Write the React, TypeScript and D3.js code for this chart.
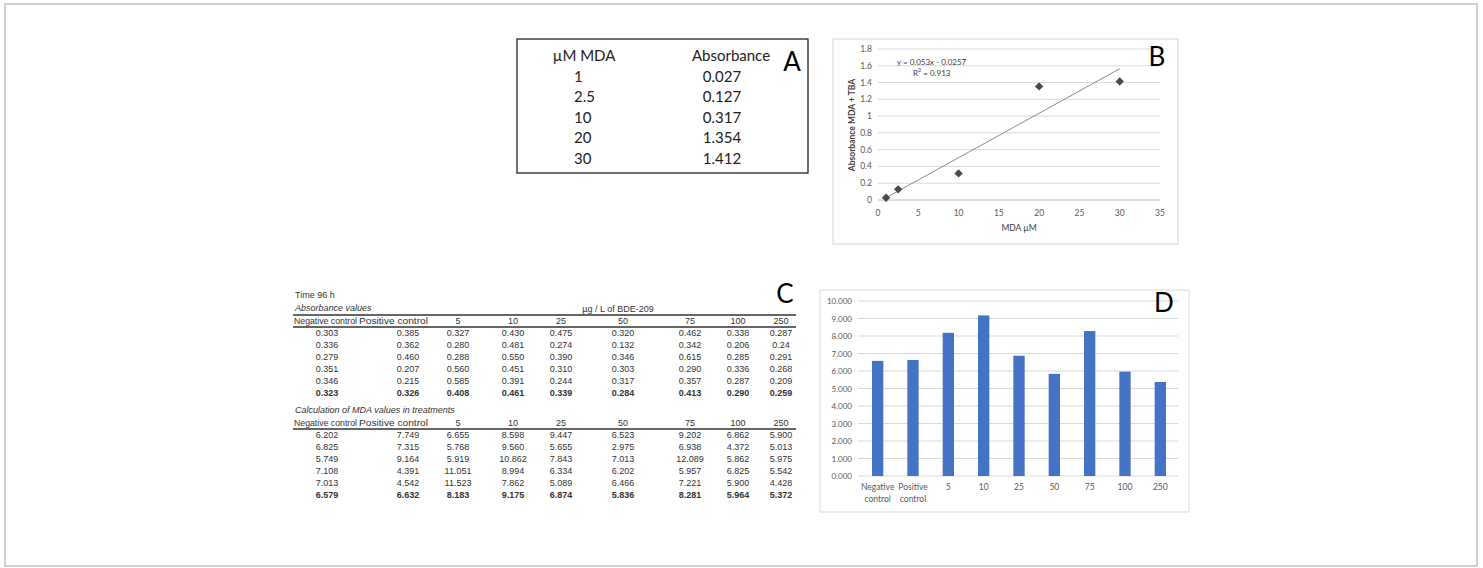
import React from "react";
import * as d3 from "d3";

// ---- Panel A / B: MDA standard curve ----
const mdaConc = [1, 2.5, 10, 20, 30];
const mdaAbs = [0.027, 0.127, 0.317, 1.354, 1.412];
const mdaAbsLabels = ["0.027", "0.127", "0.317", "1.354", "1.412"];
const fitSlope = 0.053;
const fitIntercept = -0.0257;
const fitR2 = "0.913";
const bXTicks = [0, 5, 10, 15, 20, 25, 30, 35];
const bYTicks = [0, 0.2, 0.4, 0.6, 0.8, 1, 1.2, 1.4, 1.6, 1.8];

// ---- Panel C: tables ----
const tableHeaders = ["Negative control", "Positive control", "5", "10", "25", "50", "75", "100", "250"];
const absorbanceRows = [
  ["0.303", "0.385", "0.327", "0.430", "0.475", "0.320", "0.462", "0.338", "0.287"],
  ["0.336", "0.362", "0.280", "0.481", "0.274", "0.132", "0.342", "0.206", "0.24"],
  ["0.279", "0.460", "0.288", "0.550", "0.390", "0.346", "0.615", "0.285", "0.291"],
  ["0.351", "0.207", "0.560", "0.451", "0.310", "0.303", "0.290", "0.336", "0.268"],
  ["0.346", "0.215", "0.585", "0.391", "0.244", "0.317", "0.357", "0.287", "0.209"],
];
const absorbanceMeans = ["0.323", "0.326", "0.408", "0.461", "0.339", "0.284", "0.413", "0.290", "0.259"];
const mdaRows = [
  ["6.202", "7.749", "6.655", "8.598", "9.447", "6.523", "9.202", "6.862", "5.900"],
  ["6.825", "7.315", "5.768", "9.560", "5.655", "2.975", "6.938", "4.372", "5.013"],
  ["5.749", "9.164", "5.919", "10.862", "7.843", "7.013", "12.089", "5.862", "5.975"],
  ["7.108", "4.391", "11.051", "8.994", "6.334", "6.202", "5.957", "6.825", "5.542"],
  ["7.013", "4.542", "11.523", "7.862", "5.089", "6.466", "7.221", "5.900", "4.428"],
];
const mdaMeans = ["6.579", "6.632", "8.183", "9.175", "6.874", "5.836", "8.281", "5.964", "5.372"];

// ---- Panel D: mean MDA per treatment ----
const dCategories = ["Negative\ncontrol", "Positive\ncontrol", "5", "10", "25", "50", "75", "100", "250"];
const dValues = [6.579, 6.632, 8.183, 9.175, 6.874, 5.836, 8.281, 5.964, 5.372];
const dYTicks = [0, 1, 2, 3, 4, 5, 6, 7, 8, 9, 10];

const CAL = "Lato, 'Open Sans', sans-serif";
const ARIAL = "'Liberation Sans', Arial, sans-serif";

function PanelA() {
  const rowY = d3.scaleLinear().domain([0, 5]).range([55, 158]);
  return (
    <g fontFamily={CAL} fill="#222">
      <rect x={517} y={39} width={291} height={134} fill="#fff" stroke="#222" strokeWidth={1.3} />
      <text x={584} y={rowY(0)} fontSize={15} textAnchor="middle" dominantBaseline="central">µM MDA</text>
      <text x={731} y={rowY(0)} fontSize={15} textAnchor="middle" dominantBaseline="central">Absorbance</text>
      {mdaConc.map((c, i) => (
        <text key={"c" + i} x={574} y={rowY(i + 1)} fontSize={15} dominantBaseline="central">{String(c)}</text>
      ))}
      {mdaAbsLabels.map((v, i) => (
        <text key={"a" + i} x={722} y={rowY(i + 1)} fontSize={15} textAnchor="middle" dominantBaseline="central">{v}</text>
      ))}
      <text x={792} y={61} fontSize={26} textAnchor="middle" dominantBaseline="central" fill="#000">A</text>
    </g>
  );
}

function PanelB() {
  const x = d3.scaleLinear().domain([0, 35]).range([878, 1160]);
  const y = d3.scaleLinear().domain([0, 1.8]).range([200, 49]);
  const fit = d3.line<number>().x((d) => x(d)).y((d) => y(fitSlope * d + fitIntercept));
  const diamond = d3.symbol().type(d3.symbolDiamond2).size(45)();
  return (
    <g fontFamily={CAL}>
      <rect x={833} y={39} width={345} height={205} fill="#fff" stroke="#d6d6d6" strokeWidth={1} />
      {bYTicks.map((t) => (
        <g key={"by" + t}>
          <line x1={x(0)} x2={x(35)} y1={y(t)} y2={y(t)} stroke={t === 0 ? "#bdbdbd" : "#d9d9d9"} strokeWidth={1} />
          <text x={872} y={y(t)} fontSize={8.5} textAnchor="end" dominantBaseline="central" fill="#595959">{String(t)}</text>
        </g>
      ))}
      {bXTicks.map((t) => (
        <text key={"bx" + t} x={x(t)} y={213} fontSize={8.5} textAnchor="middle" dominantBaseline="central" fill="#595959">{String(t)}</text>
      ))}
      <path d={fit([mdaConc[0], mdaConc[mdaConc.length - 1]]) || ""} stroke="#8a8a8a" strokeWidth={1} fill="none" />
      {mdaConc.map((c, i) => (
        <path key={"pt" + i} d={diamond || ""} transform={`translate(${x(c)},${y(mdaAbs[i])})`} fill="#4a4a4a" />
      ))}
      <text x={897} y={62} fontSize={8} fill="#404040" dominantBaseline="central">y = 0.053x - 0.0257</text>
      <text x={913} y={73} fontSize={8} fill="#404040" dominantBaseline="central">
        R<tspan dy={-3} fontSize={5.5}>2</tspan><tspan dy={3}> = {fitR2}</tspan>
      </text>
      <text x={1019} y={228} fontSize={8.5} textAnchor="middle" dominantBaseline="central" fill="#404040">MDA µM</text>
      <text transform={`translate(852,125) rotate(-90)`} fontSize={8.5} textAnchor="middle" dominantBaseline="central" fill="#404040" fontWeight="bold">Absorbance MDA + TBA</text>
      <text x={1157} y={56} fontSize={26} textAnchor="middle" dominantBaseline="central" fill="#000">B</text>
    </g>
  );
}

// column centres of the printed tables
const colX = [327, 408, 458, 513, 561, 623, 690, 738, 781];
// left edge and width of the two wide header cells
const headLeft = [294, 359];
const headWidth = [63, 69];

function DataTable({ top, rows, means, title, ruleAbove }: { top: number; rows: string[][]; means: string[]; title: string; ruleAbove: boolean }) {
  const rowY = d3.scaleLinear().domain([0, 1]).range([top + 12, top + 24]);
  return (
    <g>
      <text x={295} y={top - 13} fontSize={9} fontStyle="italic" dominantBaseline="central">{title}</text>
      {ruleAbove && <line x1={293} x2={796} y1={top - 6} y2={top - 6} stroke="#333" strokeWidth={1.5} />}
      {tableHeaders.map((h, i) =>
        i < 2 ? (
          <text key={"h" + i} x={headLeft[i]} y={top} fontSize={9} textLength={headWidth[i]} lengthAdjust="spacingAndGlyphs" dominantBaseline="central">{h}</text>
        ) : (
          <text key={"h" + i} x={colX[i]} y={top} fontSize={9} textAnchor="middle" dominantBaseline="central">{h}</text>
        )
      )}
      <line x1={293} x2={796} y1={top + 6} y2={top + 6} stroke="#333" strokeWidth={1.5} />
      {rows.map((r, ri) =>
        r.map((v, ci) => (
          <text key={ri + "-" + ci} x={colX[ci]} y={rowY(ri)} fontSize={9} textAnchor="middle" dominantBaseline="central">{v}</text>
        ))
      )}
      {means.map((v, ci) => (
        <text key={"m" + ci} x={colX[ci]} y={rowY(rows.length)} fontSize={9} fontWeight="bold" textAnchor="middle" dominantBaseline="central">{v}</text>
      ))}
    </g>
  );
}

function PanelC() {
  return (
    <g fontFamily={ARIAL} fill="#333">
      <text x={295} y={295} fontSize={9} dominantBaseline="central">Time 96 h</text>
      <text x={618} y={309} fontSize={9} textAnchor="middle" dominantBaseline="central">µg / L of BDE-209</text>
      <DataTable top={321} rows={absorbanceRows} means={absorbanceMeans} title="Absorbance values" ruleAbove={true} />
      <DataTable top={423} rows={mdaRows} means={mdaMeans} title="Calculation of MDA values in treatments" ruleAbove={false} />
      <text x={785} y={293} fontSize={26} fontFamily={CAL} textAnchor="middle" dominantBaseline="central" fill="#000">C</text>
    </g>
  );
}

function PanelD() {
  const x = d3.scaleBand<string>().domain(dCategories).range([860, 1178]).paddingInner(0.68).paddingOuter(0.34);
  const y = d3.scaleLinear().domain([0, 10]).range([476, 301]);
  const fmt = d3.format(".3f");
  return (
    <g fontFamily={CAL}>
      <rect x={820} y={290} width={369} height={222} fill="#fff" stroke="#d9d9d9" strokeWidth={1} />
      {dYTicks.map((t) => (
        <g key={"dy" + t}>
          <line x1={858} x2={1178} y1={y(t)} y2={y(t)} stroke="#d9d9d9" strokeWidth={1} />
          <text x={852} y={y(t)} fontSize={8} textAnchor="end" dominantBaseline="central" fill="#595959">{fmt(t)}</text>
        </g>
      ))}
      {dCategories.map((c, i) => (
        <rect key={"bar" + i} x={x(c)} y={y(dValues[i])} width={x.bandwidth()} height={y(0) - y(dValues[i])} fill="#4472C4" />
      ))}
      {dCategories.map((c, i) => {
        const lines = c.split("\n");
        const cx = (x(c) || 0) + x.bandwidth() / 2;
        return lines.map((l, li) => (
          <text key={"dl" + i + li} x={cx} y={487 + li * 12} fontSize={8.5} textAnchor="middle" dominantBaseline="central" fill="#595959">{l}</text>
        ));
      })}
      <text x={1164} y={302} fontSize={26} textAnchor="middle" dominantBaseline="central" fill="#000">D</text>
    </g>
  );
}

export default function App() {
  return (
    <svg width={1483} height={568} style={{ position: "absolute", left: 0, top: 0, background: "#fff" }}>
      <rect x={5} y={4} width={1472} height={562} fill="#fff" stroke="#d0d0d0" strokeWidth={2} />
      <PanelA />
      <PanelB />
      <PanelC />
      <PanelD />
    </svg>
  );
}
